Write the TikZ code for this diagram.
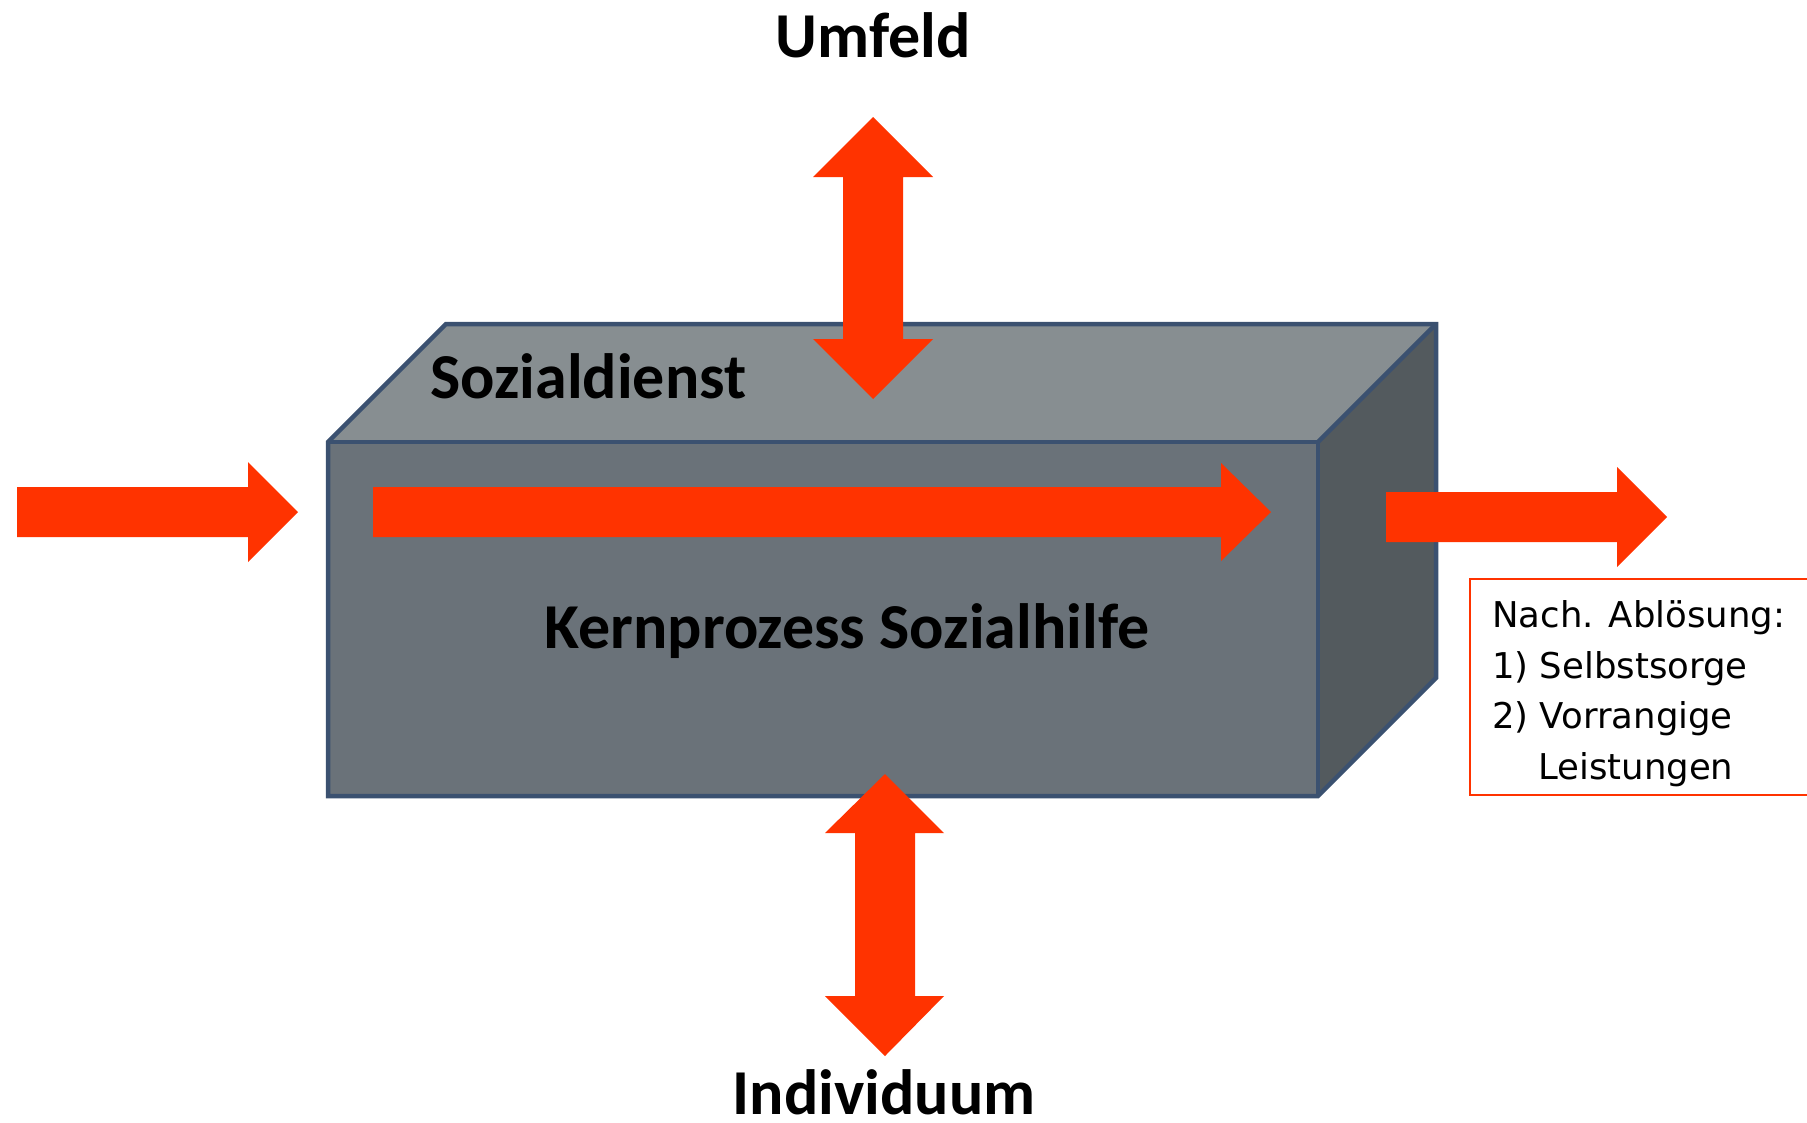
\documentclass[tikz,border=0pt]{standalone}
\usepackage{fontspec}
\setmainfont{Carlito}
\newfontfamily\boxfont{DejaVu Sans}
\definecolor{arrowred}{HTML}{FF3300}
\definecolor{topface}{HTML}{878E91}
\definecolor{frontface}{HTML}{6A7279}
\definecolor{sideface}{HTML}{535A5E}
\definecolor{edgeblue}{HTML}{3B5170}
\tikzset{
  edge/.style={draw=edgeblue, line width=4.5pt, line join=miter},
  blockarrow/.style={fill=arrowred, draw=none},
  biglabel/.style={font=\bfseries\fontsize{64}{72}\selectfont, inner sep=0pt, text=black},
  boxline/.style={font=\boxfont\fontsize{35.5}{40}\selectfont, inner sep=0pt, anchor=base west, text=black}
}
\begin{document}
\begin{tikzpicture}[x=1pt,y=-1pt]
\useasboundingbox (0,0) rectangle (1807,1122);
\fill[white] (0,0) rectangle (1807,1122);
% box faces
\coordinate (FTL) at (328,442);
\coordinate (FTR) at (1318,442);
\coordinate (FBR) at (1318,796);
\coordinate (FBL) at (328,796);
\coordinate (BTL) at (446,324);
\coordinate (BTR) at (1436,324);
\coordinate (BBR) at (1436,678);
\fill[topface] (FTL) -- (BTL) -- (BTR) -- (FTR) -- cycle;
\fill[sideface] (FTR) -- (BTR) -- (BBR) -- (FBR) -- cycle;
\fill[frontface] (FTL) -- (FTR) -- (FBR) -- (FBL) -- cycle;
\draw[edge] (FTL) -- (BTL) -- (BTR) -- (BBR) -- (FBR) -- (FBL) -- cycle;
\draw[edge] (FTL) -- (FTR) -- (FBR);
\draw[edge] (FTR) -- (BTR);
% left arrow
\fill[blockarrow] (17,487) -- (248,487) -- (248,462) -- (298,512) -- (248,562) -- (248,537) -- (17,537) -- cycle;
% inner arrow
\fill[blockarrow] (373,487) -- (1221,487) -- (1221,463) -- (1271,512) -- (1221,561) -- (1221,537) -- (373,537) -- cycle;
% right arrow
\fill[blockarrow] (1386,492) -- (1617,492) -- (1617,467) -- (1667,517) -- (1617,567) -- (1617,542) -- (1386,542) -- cycle;
% top double arrow
\fill[blockarrow] (873,117) -- (933,177) -- (903,177) -- (903,339) -- (933,339) -- (873,399) -- (813,339) -- (843,339) -- (843,177) -- (813,177) -- cycle;
% bottom double arrow
\fill[blockarrow] (885,774) -- (944,833) -- (915,833) -- (915,996) -- (944,996) -- (885,1056) -- (825,996) -- (855,996) -- (855,833) -- (825,833) -- cycle;
% labels
\node[biglabel, anchor=base] (umfeld) at (873,57) {Umfeld};
\node[biglabel, anchor=base west] (sozialdienst) at (430,398) {Sozialdienst};
\node[biglabel, anchor=base] (kern) at (847,648) {Kernprozess Sozialhilfe};
\node[biglabel, anchor=base] (individuum) at (884,1114) {Individuum};
% text box
\begin{scope}
\clip (0,0) rectangle (1807,1122);
\draw[arrowred, line width=2pt] (1470,579) rectangle (1840,795);
\end{scope}
\node[boxline] (l1) at (1492,627) {Nach. Ablösung:};
\node[boxline] (l2) at (1492,678) {1) Selbstsorge};
\node[boxline] (l3) at (1492,728) {2) Vorrangige};
\node[boxline] (l4) at (1538,779) {Leistungen};
\end{tikzpicture}
\end{document}
